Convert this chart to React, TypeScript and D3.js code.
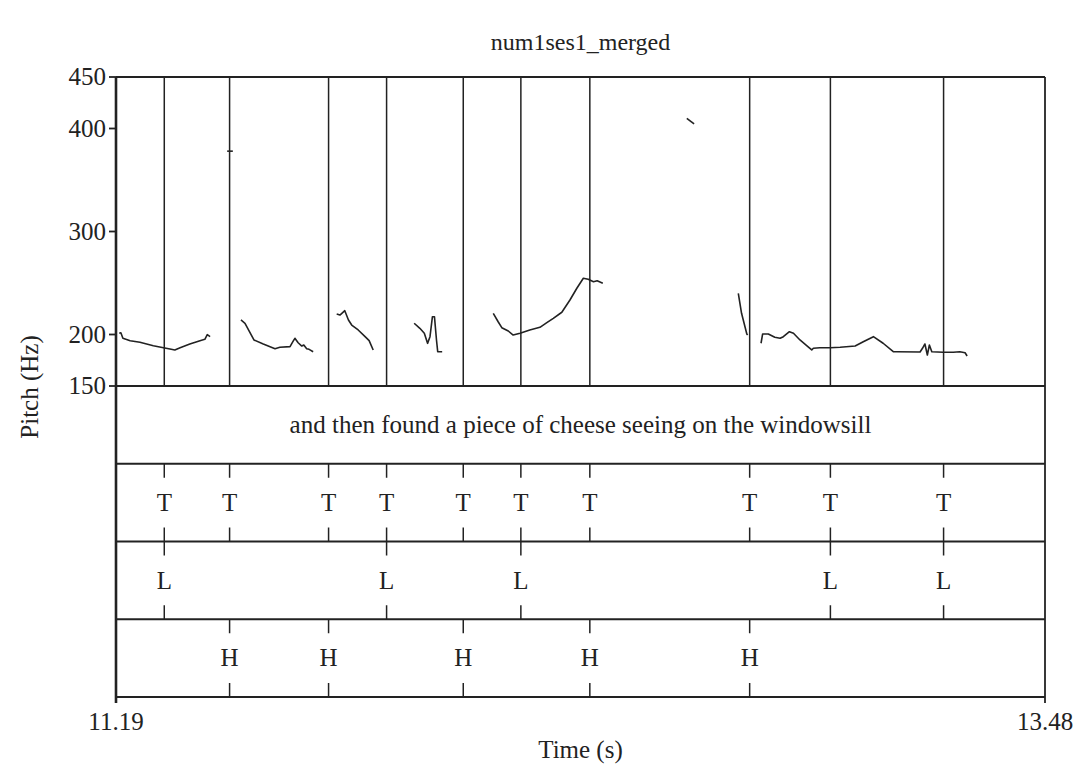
import React from 'react';
import * as d3 from 'd3';

// pitch contour pieces, [time (s), F0 (Hz)]
const pitchSegments: [number, number][][] = [
  [[11.198, 201.2], [11.202, 201.7], [11.207, 196.3], [11.225, 194.0], [11.249, 192.4], [11.282, 189.1],
   [11.307, 187.2], [11.323, 185.9], [11.335, 185.0], [11.348, 187.2], [11.372, 190.8], [11.397, 194.0],
   [11.409, 195.3], [11.415, 199.8], [11.422, 197.9]],
  [[11.464, 378], [11.478, 378]],
  [[11.498, 214.1], [11.508, 210.9], [11.530, 194.7], [11.553, 190.8], [11.582, 186.2], [11.594, 187.6],
   [11.619, 188.2], [11.626, 193.0], [11.631, 196.3], [11.639, 192.0], [11.648, 188.8], [11.653, 189.8],
   [11.660, 186.2], [11.666, 185.6], [11.676, 183.3]],
  [[11.734, 219.9], [11.742, 218.9], [11.754, 223.1], [11.763, 214.1], [11.771, 209.2], [11.787, 204.4],
   [11.804, 197.9], [11.814, 194.0], [11.824, 185.0]],
  [[11.925, 210.9], [11.939, 206.0], [11.950, 201.2], [11.958, 191.4], [11.964, 197.9], [11.970, 217.3],
   [11.975, 217.3], [11.980, 194.7], [11.983, 183.3], [11.994, 183.3]],
  [[12.120, 220.6], [12.132, 212.4], [12.141, 206.6], [12.157, 203.4], [12.169, 199.5], [12.186, 201.2],
   [12.210, 204.4], [12.235, 207.0], [12.252, 211.5], [12.268, 215.7], [12.289, 221.6], [12.309, 233.5],
   [12.326, 244.9], [12.342, 254.6], [12.354, 253.6], [12.367, 251.3], [12.376, 252.2], [12.390, 249.7]],
  [[12.597, 409.9], [12.615, 404.4]],
  [[12.724, 240.0], [12.732, 220.6], [12.745, 200.5], [12.747, 199.5]],
  [[12.780, 191.5], [12.784, 200.5], [12.798, 200.5], [12.814, 197.3], [12.827, 196.3], [12.835, 197.9],
   [12.850, 202.7], [12.860, 201.2], [12.876, 194.7], [12.894, 188.8], [12.905, 185.0], [12.909, 186.6],
   [12.925, 187.2], [12.950, 187.2], [12.975, 187.6], [13.012, 188.8], [13.032, 193.0], [13.057, 197.9],
   [13.081, 191.5], [13.106, 183.3], [13.114, 183.3], [13.172, 183.0], [13.178, 186.6], [13.184, 190.8],
   [13.190, 180.1], [13.195, 189.8], [13.201, 183.3], [13.229, 182.7], [13.254, 182.7], [13.270, 183.3],
   [13.283, 182.3], [13.288, 179.1]],
];

const yTicks = [150, 200, 300, 400, 450];
const timeRange = [11.19, 13.48];

const sentence = 'and then found a piece of cheese seeing on the windowsill';
const tTimes = [11.309, 11.470, 11.714, 11.857, 12.046, 12.188, 12.358, 12.752, 12.951, 13.230];
const lTimes = [11.309, 11.857, 12.188, 12.951, 13.230];
const hTimes = [11.470, 11.714, 12.046, 12.358, 12.752];

const pointTiers = [
  { name: 'tone', label: 'T', times: tTimes },
  { name: 'low', label: 'L', times: lTimes },
  { name: 'high', label: 'H', times: hTimes },
];

const W = 1080;
const H = 770;
const left = 116;
const right = 1045;
const top = 77;
const pitchBottom = 386;
const bottom = 697;
const ink = '#222';
const font = '"Liberation Serif", "Times New Roman", serif';

export default function App() {
  const x = d3.scaleLinear().domain(timeRange).range([left, right]);
  const y = d3.scaleLinear().domain([150, 450]).range([pitchBottom, top]);
  const tier = d3.scaleBand().domain(['text', ...pointTiers.map((t) => t.name)]).range([pitchBottom, bottom]);
  const bw = tier.bandwidth();
  const line = d3.line<[number, number]>().x((d) => x(d[0])).y((d) => y(d[1]));
  const tick = 14;

  return (
    <svg width={W} height={H} style={{ position: 'absolute', left: 0, top: 0, background: '#fff' }} fontFamily={font}>
      <text x={(left + right) / 2} y={50} textAnchor="middle" fontSize={24} fill={ink}>num1ses1_merged</text>

      {/* boundaries over the pitch panel */}
      {tTimes.map((t, i) => (
        <line key={'v' + i} x1={x(t)} x2={x(t)} y1={top} y2={pitchBottom} stroke={ink} strokeWidth={1.5} />
      ))}

      {pitchSegments.map((seg, i) => (
        <path key={'p' + i} d={line(seg) || ''} fill="none" stroke={ink} strokeWidth={1.6} strokeLinejoin="round" />
      ))}

      {/* text tier */}
      <text x={(left + right) / 2} y={tier('text')! + bw / 2} dy="0.33em" textAnchor="middle" fontSize={25} fill={ink}>
        {sentence}
      </text>

      {/* point tiers */}
      {pointTiers.map((pt) => {
        const t0 = tier(pt.name)!;
        return (
          <g key={pt.name}>
            {pt.times.map((t, i) => (
              <g key={i}>
                <line x1={x(t)} x2={x(t)} y1={t0} y2={t0 + tick} stroke={ink} strokeWidth={1.5} />
                <line x1={x(t)} x2={x(t)} y1={t0 + bw - tick} y2={t0 + bw} stroke={ink} strokeWidth={1.5} />
                <text x={x(t)} y={t0 + bw / 2} dy="0.33em" textAnchor="middle" fontSize={25} fill={ink}>{pt.label}</text>
              </g>
            ))}
          </g>
        );
      })}

      {/* frame and tier separators */}
      {tier.domain().map((d) => (
        <line key={'s' + d} x1={left} x2={right} y1={tier(d)!} y2={tier(d)!} stroke={ink} strokeWidth={1.8} />
      ))}
      <line x1={left} x2={right} y1={top} y2={top} stroke={ink} strokeWidth={1.8} />
      <line x1={left} x2={right} y1={bottom} y2={bottom} stroke={ink} strokeWidth={1.8} />
      <line x1={right} x2={right} y1={top} y2={bottom + 6} stroke={ink} strokeWidth={1.8} />
      <line x1={left} x2={left} y1={top} y2={bottom + 6} stroke={ink} strokeWidth={2.6} />

      {/* pitch axis */}
      {yTicks.map((v) => (
        <g key={v}>
          <line x1={left - 7} x2={left} y1={y(v)} y2={y(v)} stroke={ink} strokeWidth={1.8} />
          <text x={left - 10} y={y(v)} dy="0.33em" textAnchor="end" fontSize={25} fill={ink}>{v}</text>
        </g>
      ))}
      <text transform={`translate(38, ${(top + bottom) / 2}) rotate(-90)`} textAnchor="middle" fontSize={25} fill={ink}>
        Pitch (Hz)
      </text>

      {/* time axis: only the ends are labelled */}
      {timeRange.map((t) => (
        <text key={t} x={x(t)} y={730} textAnchor="middle" fontSize={25} fill={ink}>{t.toFixed(2)}</text>
      ))}
      <text x={(left + right) / 2} y={758} textAnchor="middle" fontSize={25} fill={ink}>Time (s)</text>
    </svg>
  );
}
